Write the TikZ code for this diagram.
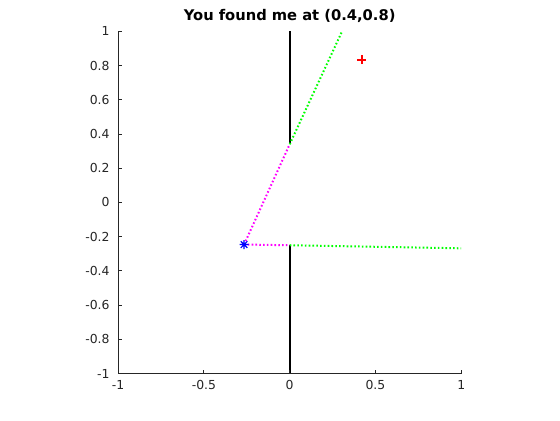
\documentclass[tikz,border=0pt]{standalone}
\usepackage{fontspec}
\setmainfont{DejaVu Sans}
\usetikzlibrary{calc}
\definecolor{plotred}{rgb}{1,0,0}
\definecolor{plotgreen}{rgb}{0,1,0}
\definecolor{plotmag}{rgb}{1,0,1}
\definecolor{plotblue}{rgb}{0,0,1}
\begin{document}
\begin{tikzpicture}[x=171.5pt,y=171pt,
  axis/.style={draw=black!85, line width=0.9pt},
  tick/.style={font=\fontsize{12.4}{14}\selectfont, text=black!85},
  wall/.style={line width=2.2pt, black},
  ray/.style={line width=2pt, dash pattern=on 1.6pt off 2.2pt},
  inray/.style={ray, plotmag},
  outray/.style={ray, plotgreen}]
\useasboundingbox (-1.689,-1.272) rectangle (1.576,1.184);
% title
\node[font=\bfseries\fontsize{14.7}{16}\selectfont] (title) at (0.0,1.09) {You found me at (0.4,0.8)};
% walls
\coordinate (slitTop) at (0,0.34);
\coordinate (slitBot) at (0,-0.25);
\draw[wall] (0,1) -- (slitTop);
\draw[wall] (slitBot) -- (0,-1);
% source
\coordinate (src) at (-0.266,-0.246);
\coordinate (outTop) at (0.305,1);
\coordinate (outBot) at (1,-0.268);
\draw[outray] (slitTop) -- (outTop);
\draw[outray] (slitBot) -- (outBot);
\draw[inray] (src) -- (slitTop);
\draw[inray] (src) -- (slitBot);
% star marker
\draw[plotblue, line width=1.2pt] ($(src)+(-4.5pt,0)$) -- ($(src)+(4.5pt,0)$)
  ($(src)+(0,-4.5pt)$) -- ($(src)+(0,4.5pt)$)
  ($(src)+(-3.3pt,-3.3pt)$) -- ($(src)+(3.3pt,3.3pt)$)
  ($(src)+(-3.3pt,3.3pt)$) -- ($(src)+(3.3pt,-3.3pt)$);
% target plus
\coordinate (tgt) at (0.42,0.835);
\draw[plotred, line width=2pt] ($(tgt)+(-4.5pt,0)$) -- ($(tgt)+(4.5pt,0)$)
  ($(tgt)+(0,-4.5pt)$) -- ($(tgt)+(0,4.5pt)$);
% axes
\draw[axis] (-1,1) -- (-1,-1) -- (1,-1);
\foreach \v/\l in {-1/-1,-0.5/-0.5,0/0,0.5/0.5,1/1}{
  \draw[axis] (\v,-1) -- ++(0,3.5pt);
  \node[tick, anchor=north] at (\v,-1.018) {\l};
}
\foreach \v/\l in {-1/-1,-0.8/-0.8,-0.6/-0.6,-0.4/-0.4,-0.2/-0.2,0/0,0.2/0.2,0.4/0.4,0.6/0.6,0.8/0.8,1/1}{
  \draw[axis] (-1,\v) -- ++(3.5pt,0);
  \node[tick, anchor=east] at (-1.03,\v) {\l};
}
\end{tikzpicture}
\end{document}
